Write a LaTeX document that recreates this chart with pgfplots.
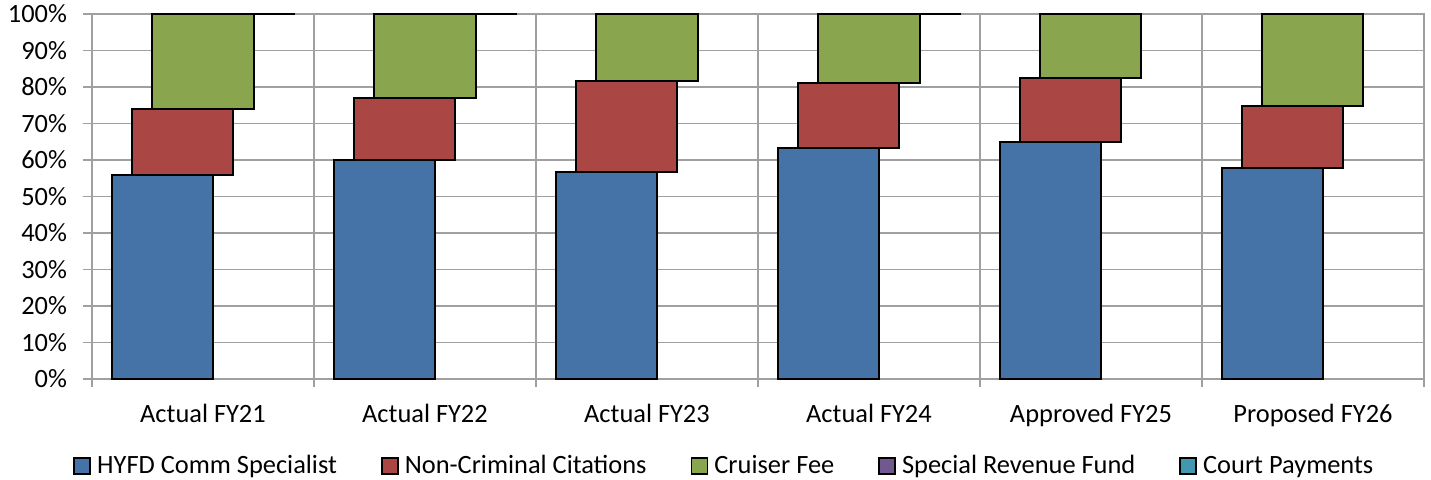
\documentclass[border=0pt]{standalone}
\usepackage{fontspec}
\setmainfont{Carlito}
\usepackage{pgfplots}
\pgfplotsset{compat=1.18}
\definecolor{cblue}{HTML}{4572A7}
\definecolor{cred}{HTML}{AA4643}
\definecolor{cgreen}{HTML}{89A54E}
\definecolor{cpurple}{HTML}{71588F}
\definecolor{cteal}{HTML}{4198AF}
\definecolor{cgrid}{HTML}{A0A0A0}

\begin{document}
\begin{tikzpicture}
\useasboundingbox (0,0) rectangle (715.5pt,239.5pt);
\begin{axis}[
    at={(46pt,50pt)}, anchor=south west,
    scale only axis,
    width=666pt, height=182.5pt,
    ybar stacked,
    bar width=0.455,
    xmin=-0.5, xmax=5.5,
    ymin=0, ymax=100,
    clip=false,
    unbounded coords=discard,
    xtick={0,...,5},
    xticklabels={Actual FY21,Actual FY22,Actual FY23,Actual FY24,Approved FY25,Proposed FY26},
    minor xtick={-0.5,0.5,...,5.5},
    ytick={0,10,...,100},
    yticklabels={0\%,10\%,20\%,30\%,40\%,50\%,60\%,70\%,80\%,90\%,100\%},
    tick pos=left,
    tick align=outside,
    major tick length=4.5pt,
    minor tick length=4pt,
    major x tick style={draw=none},
    tick style={cgrid, line width=0.9pt},
    xminorgrids=true, ymajorgrids=true,
    grid style={cgrid, line width=0.9pt},
    axis line style={cgrid, line width=0.9pt},
    tick label style={font=\fontsize{13.2}{15.8}\selectfont},
    xticklabel style={anchor=base, yshift=-17pt},
    yticklabel style={anchor=east, xshift=-4.5pt},
    legend columns=5,
    legend style={at={(0,0)}, anchor=west, xshift=-9.5pt, yshift=-43.5pt,
        draw=none, inner sep=0pt,
        font=\fontsize{13.2}{15.8}\selectfont,
        nodes={inner xsep=1pt, inner ysep=0pt},
        /tikz/every odd column/.append style={column sep=2pt},
        /tikz/every even column/.append style={column sep=21pt}},
    legend image code/.code={\draw[#1, draw=black, line width=0.9pt] (0pt,-4pt) rectangle (8pt,4pt);},
    every axis plot/.append style={draw=black, line width=1pt},
]
% HYFD Comm Specialist
\addplot[fill=cblue, bar shift=-0.184] coordinates {
    (0,55.9) (1,60.0) (2,56.7) (3,63.3) (4,65.0) (5,57.7)};
% Non-Criminal Citations
\addplot[fill=cred, bar shift=-0.092] coordinates {
    (0,18.1) (1,17.0) (2,24.9) (3,17.9) (4,17.6) (5,17.1)};
% Cruiser Fee
\addplot[fill=cgreen, bar shift=0] coordinates {
    (0,25.96) (1,22.96) (2,18.4) (3,18.76) (4,17.4) (5,25.2)};
% Special Revenue Fund
\addplot[fill=cpurple, bar shift=0.092] coordinates {
    (0,0.02) (1,0.02) (2,nan) (3,0.02) (4,nan) (5,nan)};
% Court Payments
\addplot[fill=cteal, bar shift=0.184] coordinates {
    (0,0.02) (1,0.02) (2,nan) (3,0.02) (4,nan) (5,nan)};
\legend{HYFD Comm Specialist,Non-Criminal Citations,Cruiser Fee,Special Revenue Fund,Court Payments}
\end{axis}
\end{tikzpicture}
\end{document}
